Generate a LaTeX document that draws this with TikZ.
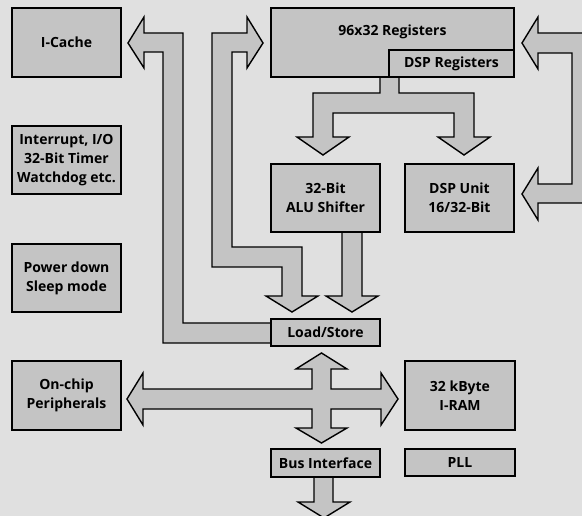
\documentclass[tikz,border=0pt]{standalone}
\usepackage{fontspec}
\setmainfont{Open Sans}
\definecolor{bg}{RGB}{224,224,224}
\definecolor{boxfill}{RGB}{196,196,196}
\tikzset{
  box/.style={draw=black, fill=boxfill, line width=1.4pt, inner sep=0pt, align=center,
    font=\bfseries\fontsize{14}{19}\selectfont},
  fat/.style={draw=black, fill=boxfill, line width=1.4pt, line join=miter},
  lbl/.style={font=\bfseries\fontsize{14}{19}\selectfont, inner sep=0pt}
}
\begin{document}
\begin{tikzpicture}[x=1pt,y=-1pt]
\fill[bg] (0,0) rectangle (582,516);
\useasboundingbox (0,0) rectangle (582,516);
\clip (0,0) rectangle (582,516);

% fat arrows
% I-Cache <- Load/Store
\draw[fat] (271,323) -- (183,323) -- (183,33) -- (144,33) -- (144,17) -- (128,43) -- (144,68) -- (144,52) -- (163,52) -- (163,343) -- (271,343) -- cycle;
% Registers <-> Load/Store
\draw[fat] (263,43) -- (247,17) -- (247,33) -- (212,33) -- (212,267) -- (282,267) -- (282,296) -- (266,296) -- (292,312) -- (318,296) -- (302,296) -- (302,247) -- (232,247) -- (232,52) -- (247,52) -- (247,68) -- cycle;
% ALU -> Load/Store
\draw[fat] (342,232) -- (342,296) -- (326,296) -- (352,312) -- (378,296) -- (362,296) -- (362,232) -- cycle;
% DSP Registers fork
\draw[fat] (380,77) -- (380,93) -- (313,93) -- (313,137) -- (297,137) -- (323,155) -- (349,137) -- (333,137) -- (333,113) -- (454,113) -- (454,137) -- (438,137) -- (464,155) -- (490,137) -- (474,137) -- (474,93) -- (399,93) -- (399,77) -- cycle;
% right loop
\draw[fat] (522,43) -- (538,17) -- (538,33) -- (600,33) -- (600,203) -- (538,203) -- (538,220) -- (522,194) -- (538,168) -- (538,184) -- (572,184) -- (572,53) -- (538,53) -- (538,69) -- cycle;
% cross
\draw[fat] (321.5,353) -- (347,369) -- (331,369) -- (331,389) -- (381,389) -- (381,373) -- (398,399) -- (381,425) -- (381,409) -- (331,409) -- (331,428) -- (347,428) -- (321.5,443) -- (296,428) -- (312,428) -- (312,409) -- (143,409) -- (143,425) -- (127,399) -- (143,373) -- (143,389) -- (312,389) -- (312,369) -- (296,369) -- cycle;
% bus out
\draw[fat] (314,477) -- (314,502) -- (298,502) -- (324,518) -- (350,502) -- (333,502) -- (333,477) -- cycle;

% boxes
\node[box, minimum width=109pt, minimum height=69pt] (icache) at (66.5,42.5) {I-Cache};
\node[box, minimum width=109pt, minimum height=68pt] (intr) at (66.5,160) {Interrupt, I/O\\32-Bit Timer\\Watchdog etc.};
\node[box, minimum width=109pt, minimum height=68pt] (power) at (66.5,278) {Power down\\Sleep mode};
\node[box, minimum width=109pt, minimum height=69pt] (periph) at (66.5,395.5) {On-chip\\Peripherals};
\node[box, minimum width=243pt, minimum height=69pt,
  label={[lbl, yshift=11pt]center:96x32 Registers}] (regs) at (392.5,42.5) {};
\node[box, minimum width=125pt, minimum height=27pt] (dspregs) at (451.5,63.5) {DSP Registers};
\node[box, minimum width=109pt, minimum height=68pt] (alu) at (325.5,198) {32-Bit\\ALU Shifter};
\node[box, minimum width=109pt, minimum height=68pt] (dsp) at (459.5,198) {DSP Unit\\16/32-Bit};
\node[box, minimum width=109pt, minimum height=27pt] (ls) at (325.5,332.5) {Load/Store};
\node[box, minimum width=110pt, minimum height=69pt] (iram) at (460,395.5) {32 kByte\\I-RAM};
\node[box, minimum width=110pt, minimum height=27pt] (pll) at (460,462.5) {PLL};
\node[box, minimum width=109pt, minimum height=28pt] (bus) at (325.5,463) {Bus Interface};
\end{tikzpicture}
\end{document}
